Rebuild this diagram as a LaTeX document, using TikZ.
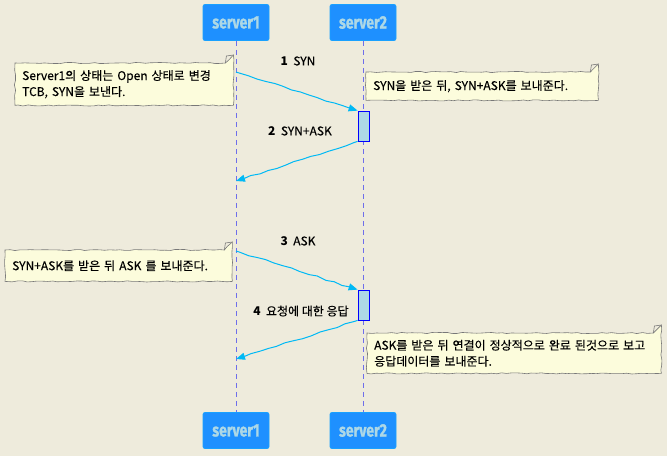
\documentclass[tikz,border=0pt]{standalone}
\usepackage{fontspec}
\setmainfont{Noto Sans CJK KR}[UprightFeatures={FakeBold=0.35}]
\newfontfamily\headfont{Fira Sans}[BoldFeatures={FakeBold=1.3}]
\usetikzlibrary{arrows.meta,decorations.pathmorphing,backgrounds}
\definecolor{bgc}{RGB}{238,235,220}
\definecolor{partfill}{RGB}{30,144,255}
\definecolor{parttext}{RGB}{173,216,230}
\definecolor{lifec}{RGB}{110,110,235}
\definecolor{arrowc}{RGB}{0,185,245}
\definecolor{actfill}{RGB}{173,216,230}
\definecolor{notefill}{RGB}{252,252,220}
\definecolor{notedraw}{RGB}{120,120,120}
\newcommand\ptxt[1]{\scalebox{0.78}[1]{#1}}
\tikzset{
  part/.style={fill=partfill, draw=partfill!85!cyan, line width=0.8pt, rounded corners=2pt,
    minimum width=66pt, minimum height=36pt, inner sep=0pt, text=parttext,
    font=\headfont\bfseries\fontsize{18}{18}\selectfont},
  life/.style={draw=lifec, dashed, dash pattern=on 5pt off 4pt, line width=0.7pt},
  act/.style={draw=blue, fill=actfill, line width=0.8pt, minimum width=11pt, minimum height=30pt, inner sep=0pt},
  msg/.style={draw=arrowc, line width=1pt, -{Triangle[length=9pt,width=7pt]},
    decorate, decoration={random steps, segment length=9pt, amplitude=0.8pt, pre length=4pt, post length=10pt}},
  lbl/.style={font=\fontsize{12}{14}\selectfont, inner sep=0pt},
  notetxt/.style={font=\fontsize{12}{16}\selectfont, align=left, inner xsep=7pt, inner ysep=0pt, anchor=north west},
  noteline/.style={draw=notedraw, fill=notefill, line width=0.6pt,
    decorate, decoration={random steps, segment length=5pt, amplitude=0.6pt}},
}
\newcommand\drawnote[1]{%
  \filldraw[noteline] (#1.north west) -- ([xshift=-8pt]#1.north east) -- ([yshift=8pt]#1.north east)
    -- (#1.south east) -- (#1.south west) -- cycle;
  \draw[draw=notedraw, line width=0.6pt] ([xshift=-8pt]#1.north east) -- ([xshift=-7pt,yshift=7pt]#1.north east) -- ([yshift=8pt]#1.north east);
}
\begin{document}
\begin{tikzpicture}[x=1pt,y=-1pt]
\pgfmathsetseed{7}
\useasboundingbox (0,0) rectangle (667,456);

% participants
\node[part] (s1top) at (236,22.5) {\ptxt{server1}};
\node[part] (s2top) at (363,22.5) {\ptxt{server2}};
\node[part] (s1bot) at (236,430.5) {\ptxt{server1}};
\node[part] (s2bot) at (363,430.5) {\ptxt{server2}};
\draw[life] (s1top) -- (s1bot);
\draw[life] (s2top) -- (s2bot);

% activations
\node[act] (a1) at (363.5,126) {};
\node[act] (a2) at (363.5,305) {};

% message points on server1 lifeline
\coordinate (m1s) at (236,72);
\coordinate (m2e) at (236,181);
\coordinate (m3s) at (236,251);
\coordinate (m4e) at (236,359);

% messages
\draw[msg] (m1s) -- (a1.north west);
\draw[msg] (a1.south west) -- (m2e);
\draw[msg] (m3s) -- (a2.north west);
\draw[msg] (a2.south west) -- (m4e);

\node[lbl] (l1) at (298,61) {\textbf{1}\ \ SYN};
\node[lbl] (l2) at (300,131) {\textbf{2}\ \ SYN+ASK};
\node[lbl] (l3) at (298,241) {\textbf{3}\ \ ASK};
\node[lbl] (l4) at (301,311) {\textbf{4}\ \ 요청에 대한 응답};

% notes
\node[notetxt, text width=204pt, minimum height=42pt] (n1) at (15,63)
  {Server1의 상태는 Open 상태로 변경\\TCB, SYN을 보낸다.};
\node[notetxt, text width=218pt, minimum height=28pt] (n2) at (366,72)
  {SYN을 받은 뒤, SYN+ASK를 보내준다.};
\node[notetxt, text width=213pt, minimum height=31pt] (n3) at (5,250)
  {SYN+ASK를 받은 뒤 ASK 를 보내준다.};
\node[notetxt, text width=280pt, minimum height=40pt] (n4) at (367,333)
  {ASK를 받은 뒤 연결이 정상적으로 완료 된것으로 보고\\응답데이터를 보내준다.};
\begin{scope}[on background layer]
\fill[bgc] (0,0) rectangle (667,456);
\drawnote{n1}
\drawnote{n2}
\drawnote{n3}
\drawnote{n4}
\end{scope}
\end{tikzpicture}
\end{document}
